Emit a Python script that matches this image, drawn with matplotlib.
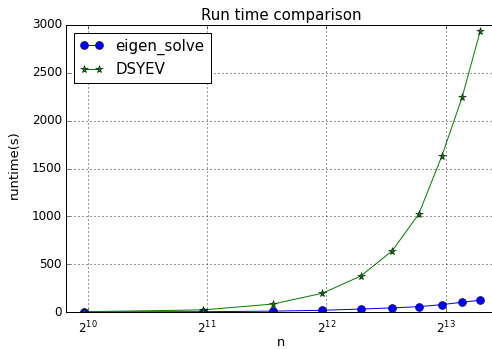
import matplotlib
matplotlib.use('Agg')
import matplotlib.pyplot as plt

plt.style.use('classic')

n = [1000, 2000, 3000, 4000, 5000, 6000, 7000, 8000, 9000, 10000]
eigen_solve = [1, 3, 9, 18, 31, 43, 56, 77, 102, 123]
dsyev = [3, 22, 83, 196, 376, 640, 1024, 1628, 2243, 2936]

fig = plt.figure(figsize=(492 / 72, 349 / 72), dpi=72)
ax = fig.add_axes([66 / 492, 1 - 312 / 349, 430 / 492, 287 / 349])

ax.plot(n, eigen_solve, 'b-o', markersize=8, label='eigen_solve')
ax.plot(n, dsyev, 'g-*', markersize=8, label='DSYEV')

ax.set_xscale('log', base=2)
ax.set_xlim(2 ** 9.818, 2 ** 13.42)
ax.set_ylim(0, 3000)
ax.grid(True, color='k', linestyle=(0, (1, 3)), linewidth=0.8)

ax.set_title('Run time comparison', fontsize=15)
ax.set_xlabel('n', fontsize=13, labelpad=-1)
ax.set_ylabel('runtime(s)', fontsize=13)
ax.yaxis.set_label_coords(-0.105, 0.515)
ax.tick_params(axis='x', pad=8)
ax.legend(loc='upper left', fontsize=15, handlelength=1.6)

fig.savefig('out.png', dpi=72)
